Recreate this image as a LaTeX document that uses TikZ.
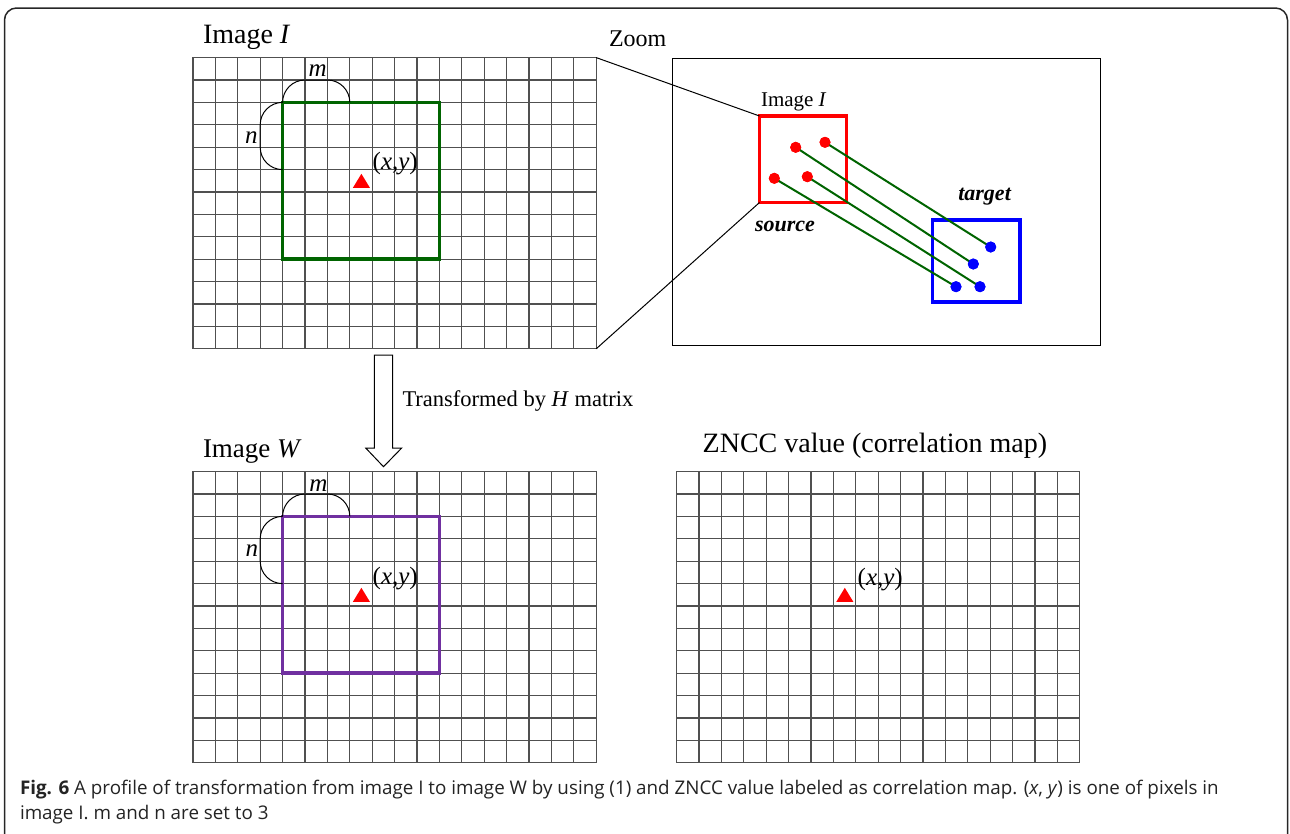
\documentclass[tikz,border=0pt]{standalone}
\usepackage{fontspec}
\setmainfont{Liberation Serif}
\newfontfamily\capfont{Open Sans}
\definecolor{gridc}{RGB}{80,80,80}
\definecolor{dkgreen}{RGB}{0,100,0}
\definecolor{winpurple}{RGB}{112,48,160}
\definecolor{capc}{RGB}{35,35,35}
\begin{document}
\begin{tikzpicture}[x=1pt,y=-1pt,
  gridbox/.style={draw=gridc, line width=1.2pt, inner sep=0pt, outer sep=0pt, minimum width=403.2pt, minimum height=291.2pt, anchor=north west},
  gridline/.style={draw=gridc, line width=1.2pt},
  win/.style={line width=3.5pt, inner sep=0pt, outer sep=0pt, minimum size=156.8pt, anchor=north west},
  brace/.style={draw=black, line width=1pt, rounded corners=22.4pt},
  lbl/.style={inner sep=0pt, outer sep=0pt, anchor=base west},
  trimark/.style={fill=red},
  zbox/.style={draw=black, line width=1pt, inner sep=0pt, outer sep=0pt, anchor=north west},
  selbox/.style={line width=3.5pt, inner sep=0pt, outer sep=0pt, anchor=north west},
  reddot/.style={circle, fill=red, inner sep=0pt, outer sep=0pt, minimum size=11pt},
  bluedot/.style={circle, fill=blue, inner sep=0pt, outer sep=0pt, minimum size=11pt},
  match/.style={draw=dkgreen, line width=2pt},
  zoomline/.style={draw=black, line width=1pt}
]
\useasboundingbox (0,0) rectangle (1290,833);
\draw[line width=1.5pt, rounded corners=12pt, draw=black!85] (4.5,8) rectangle (1287.5,870);

% grids
\node[gridbox] (g1) at (193,57.6) {};
\node[gridbox] (g2) at (193,471.6) {};
\node[gridbox] (g3) at (676.6,471.6) {};
\foreach \g in {g1,g2,g3}{
  \foreach \i in {1,...,17}
    \draw[gridline] ([xshift=\i*22.4pt]\g.north west) -- ([xshift=\i*22.4pt]\g.south west);
  \foreach \j in {1,...,12}
    \draw[gridline] ([yshift=-\j*22.4pt]\g.north west) -- ([yshift=-\j*22.4pt]\g.north east);
}

% windows
\node[win, draw=dkgreen] (win1) at (282.6,102.4) {};
\node[win, draw=winpurple] (win2) at (282.6,516.4) {};

% braces m and n
\foreach \w in {win1,win2}{
  \draw[brace] (\w.north west) -- ++(0,-22.4) -- ++(67.2,0) -- ++(0,22.4);
  \draw[brace] (\w.north west) -- ++(-22.4,0) -- ++(0,67.2) -- ++(22.4,0);
}
\node[lbl] (m1) at (308.5,76) {\fontsize{25}{30}\selectfont\textit{m}};
\node[lbl] (n1) at (245,143.3) {\fontsize{25}{30}\selectfont\textit{n}};
\node[lbl] (m2) at (309.3,491.7) {\fontsize{25}{30}\selectfont\textit{m}};
\node[lbl] (n2) at (245.7,556) {\fontsize{25}{30}\selectfont\textit{n}};

% red triangles
\coordinate (t1) at (361.4,180.8);
\coordinate (t2) at (361.4,594.8);
\coordinate (t3) at (844.8,594.8);
\foreach \t in {t1,t2,t3}
  \fill[trimark] ([xshift=-8.5pt,yshift=-7pt]\t) -- ([xshift=8.5pt,yshift=-7pt]\t) -- ([yshift=7pt]\t) -- cycle;
\node[lbl] (xy1) at (372.7,169) {\fontsize{25}{30}\selectfont(\textit{x},\textit{y})};
\node[lbl] (xy2) at (372.7,584) {\fontsize{25}{30}\selectfont(\textit{x},\textit{y})};
\node[lbl] (xy3) at (857.7,585) {\fontsize{25}{30}\selectfont(\textit{x},\textit{y})};

% titles
\node[lbl] (tI) at (203,43.5) {\fontsize{28}{32}\selectfont Image \textit{I}};
\node[lbl] (tW) at (203,457) {\fontsize{27}{32}\selectfont Image \textit{W}};
\node[lbl] (tZ) at (702.7,452.7) {\fontsize{28}{32}\selectfont ZNCC value (correlation map)};
\node[lbl] (tzoom) at (609,46.5) {\fontsize{24}{28}\selectfont Zoom};

% zoom panel
\node[zbox, minimum width=428pt, minimum height=287.5pt] (zoombox) at (672.5,58) {};
\node[selbox, draw=red, minimum width=87pt, minimum height=86.5pt] (src) at (759.5,116) {};
\node[selbox, draw=blue, minimum width=87.5pt, minimum height=82pt] (tgt) at (932.5,220) {};
\draw[zoomline] (g1.north east) -- (src.north west);
\draw[zoomline] (g1.south east) -- (src.south west);
\node[lbl] (tIz) at (761,106) {\fontsize{21}{25}\selectfont Image \textit{I}};
\node[lbl] (tsrc) at (755,231.5) {\fontsize{22}{26}\selectfont\textbf{\textit{source}}};
\node[lbl] (ttgt) at (958.3,200.7) {\fontsize{22}{26}\selectfont\textbf{\textit{target}}};

\node[reddot] (r1) at (825,142.3) {};
\node[reddot] (r2) at (795.7,147.3) {};
\node[reddot] (r3) at (774.3,178.3) {};
\node[reddot] (r4) at (807.3,176.7) {};
\node[bluedot] (b1) at (990.7,247) {};
\node[bluedot] (b2) at (973.3,264) {};
\node[bluedot] (b3) at (956,286.7) {};
\node[bluedot] (b4) at (980,286.7) {};
\foreach \k in {1,2,3,4}
  \draw[match] (r\k.center) -- (b\k.center);
\foreach \k in {1,2,3,4}{
  \fill[red] (r\k) circle (5.5pt);
  \fill[blue] (b\k) circle (5.5pt);
}

% transform arrow
\coordinate (atop) at (383.5,355);
\draw[line width=1pt, fill=white] ([xshift=-9.2pt]atop) -- ([xshift=9.2pt]atop) -- ++(0,93) -- ++(9,0) -- (383.5,466.7) -- (365.7,448) -- ++(8.6,0) -- cycle;
\node[lbl] (ttr) at (402.5,406.5) {\fontsize{22.5}{26}\selectfont Transformed by \textit{H} matrix};

% caption
\node[lbl, text=capc] (cap1) at (20,794) {\capfont\fontsize{18.8}{22}\selectfont\textbf{Fig. 6} A profile of transformation from image I to image W by using (1) and ZNCC value labeled as correlation map. (\textit{x}, \textit{y}) is one of pixels in};
\node[lbl, text=capc] (cap2) at (20,819) {\capfont\fontsize{18.8}{22}\selectfont image I. m and n are set to 3};
\end{tikzpicture}
\end{document}
